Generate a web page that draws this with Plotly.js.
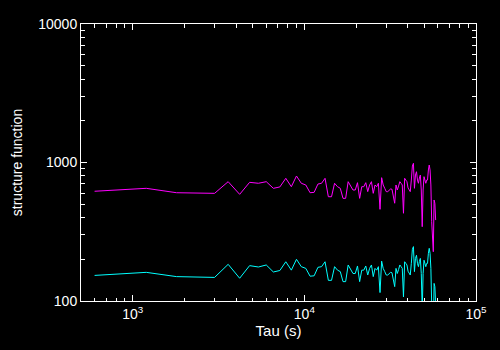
<!DOCTYPE html>
<html>
<head>
<meta charset="utf-8">
<script src="https://cdn.plot.ly/plotly-3.0.1.min.js"></script>
<style>
html,body{margin:0;padding:0;background:#000;}
#chart{width:500px;height:350px;}
</style>
</head>
<body>
<div id="chart"></div>
<script>
var tau = [600,1200,1800,2400,3000,3600,4200,4800,5400,6000,
6600,7200,7800,8400,9000,9600,10200,10800,11400,12000,
12600,13200,13800,14400,15000,15600,16200,16800,17400,18000,
18600,19200,19800,20400,21000,21600,22200,22800,23400,24000,
24600,25200,25800,26400,27000,27600,28200,28800,29400,30000,
30600,31200,31800,32400,33000,33600,34200,34800,35400,36000,
36600,37200,37800,38400,39000,39600,40200,40800,41400,42000,
42600,43200,43800,44400,45000,45600,46200,46800,47400,48000,
48600,49200,49800,50400,51000,51600,52200,52800,53400,54000,
54600,55200,55800,56400,57000,57600,58200];

var sfMagenta = [620,651,605,599,599,727,589,719,708,727,
651,666,769,669,799,708,688,605,609,699,
708,769,566,566,708,669,651,551,551,727,
669,633,633,715,551,669,669,715,616,688,
727,599,688,669,708,459,777,688,651,616,
616,633,644,641,583,508,688,633,677,727,
708,688,430,769,747,727,655,633,616,747,
943,987,651,812,858,747,708,773,812,633,
344,633,790,747,708,747,747,883,959,883,
688,374,276,227,536,508,384];

var sfCyan = [153,161,150,148,148,184,146,180,176,182,
162,166,192,167,200,177,172,151,152,175,
177,192,141,141,177,167,163,138,138,182,
167,158,158,179,138,167,167,179,154,172,
182,150,172,167,177,115,194,172,163,154,
154,158,161,160,146,127,172,158,169,182,
177,172,107,192,187,182,164,158,154,187,
236,247,163,203,214,187,177,193,203,158,
86,158,197,187,177,187,187,221,240,221,
172,93,69,57,134,127,96];

var xTickVals = [1000,10000,100000];
var xTickText = ['10<sup>3</sup>','10<sup>4</sup>','10<sup>5</sup>'];
var xMinor = [600,700,800,900,2000,3000,4000,5000,6000,7000,8000,9000,
              20000,30000,40000,50000,60000,70000,80000,90000];
var yTickVals = [100,1000,10000];
var yTickText = ['100','1000','10000'];
var yMinor = [200,300,400,500,600,700,800,900,2000,3000,4000,5000,6000,7000,8000,9000];

var traces = [
  {x: tau, y: sfMagenta, type:'scatter', mode:'lines', line:{color:'#ff00ff', width:1}, hoverinfo:'skip'},
  {x: tau, y: sfCyan, type:'scatter', mode:'lines', line:{color:'#00ffff', width:1}, hoverinfo:'skip'}
];

var axisCommon = {
  type:'log', showgrid:false, zeroline:false,
  showline:true, linecolor:'#fff', linewidth:1, mirror:'allticks',
  ticks:'inside', ticklen:6, tickwidth:1, tickcolor:'#fff',
  tickmode:'array',
  tickfont:{family:'Liberation Sans, Arial, sans-serif', size:14, color:'#fff'},
};

var layout = {
  width:500, height:350,
  paper_bgcolor:'#000', plot_bgcolor:'#000',
  margin:{l:81, r:24, t:24, b:49, pad:0},
  showlegend:false,
  xaxis: Object.assign({}, axisCommon, {
    range:[Math.log10(500), 5],
    tickvals:xTickVals, ticktext:xTickText,
    minor:{tickmode:'array', tickvals:xMinor, ticks:'inside', ticklen:3.5, tickwidth:1, tickcolor:'#fff', showgrid:false},
    title:{text:'Tau (s)', font:{family:'Liberation Sans, Arial, sans-serif', size:15, color:'#fff'}, standoff:4}
  }),
  yaxis: Object.assign({}, axisCommon, {
    range:[2, 4],
    tickvals:yTickVals, ticktext:yTickText,
    minor:{tickmode:'array', tickvals:yMinor, ticks:'inside', ticklen:4, tickwidth:1, tickcolor:'#fff', showgrid:false},
    title:{text:'structure function', font:{family:'Liberation Sans, Arial, sans-serif', size:14, color:'#fff'}, standoff:12}
  })
};

Plotly.newPlot('chart', traces, layout, {staticPlot:true, displayModeBar:false});
</script>
</body>
</html>
